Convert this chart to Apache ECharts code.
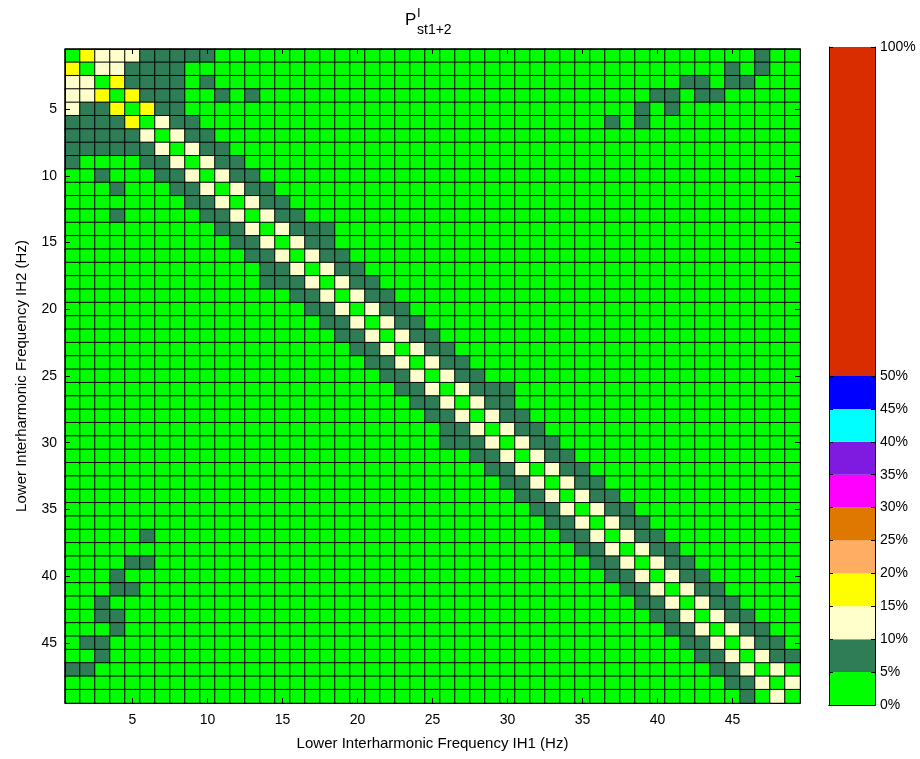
<!DOCTYPE html>
<html>
<head>
<meta charset="utf-8">
<script src="https://cdn.jsdelivr.net/npm/echarts@6/dist/echarts.min.js"></script>
<style>
html,body{margin:0;padding:0;background:#fff}
#main{width:920px;height:759px}
</style>
</head>
<body>
<div id="main"></div>
<script>
// frequency bins 1..49 Hz (same for both axes)
var freqs = [1,2,3,4,5,6,7,8,9,10,11,12,13,14,15,16,17,18,19,20,21,22,23,24,25,
             26,27,28,29,30,31,32,33,34,35,36,37,38,39,40,41,42,43,44,45,46,47,48,49];

// one string per IH2 row (1..49), one char per IH1 column
// 0 -> 0-5%, 1 -> 5-10%, 2 -> 10-15%, 3 -> 15-20%
var cellRows = [
  "0322211111 0000000000 0000000000 0000000000 000000100",
  "3022111100 0000000000 0000000000 0000000000 000010100",
  "2203111101 0000000000 0000000000 0000000000 011011000",
  "2230311100 1010000000 0000000000 0000000001 101100000",
  "2113031100 0000000000 0000000000 0000000010 100000000",
  "1111302110 0000000000 0000000000 0000001010 000000000",
  "1111120211 0000000000 0000000000 0000000000 000000000",
  "1111112021 1000000000 0000000000 0000000000 000000000",
  "1000011202 1100000000 0000000000 0000000000 000000000",
  "0010001120 2110000000 0000000000 0000000000 000000000",
  "0001000112 0211000000 0000000000 0000000000 000000000",
  "0000000011 2021100000 0000000000 0000000000 000000000",
  "0001000001 1202110000 0000000000 0000000000 000000000",
  "0000000000 1120211100 0000000000 0000000000 000000000",
  "0000000000 0112021100 0000000000 0000000000 000000000",
  "0000000000 0011202110 0000000000 0000000000 000000000",
  "0000000000 0001120211 0000000000 0000000000 000000000",
  "0000000000 0001112021 1000000000 0000000000 000000000",
  "0000000000 0000011202 1100000000 0000000000 000000000",
  "0000000000 0000001120 2110000000 0000000000 000000000",
  "0000000000 0000000112 0211000000 0000000000 000000000",
  "0000000000 0000000011 2021100000 0000000000 000000000",
  "0000000000 0000000001 1202110000 0000000000 000000000",
  "0000000000 0000000000 1120211000 0000000000 000000000",
  "0000000000 0000000000 0112021100 0000000000 000000000",
  "0000000000 0000000000 0011202111 0000000000 000000000",
  "0000000000 0000000000 0001120211 0000000000 000000000",
  "0000000000 0000000000 0000112021 1000000000 000000000",
  "0000000000 0000000000 0000011202 1100000000 000000000",
  "0000000000 0000000000 0000011120 2110000000 000000000",
  "0000000000 0000000000 0000000112 0211000000 000000000",
  "0000000000 0000000000 0000000011 2021100000 000000000",
  "0000000000 0000000000 0000000001 1202110000 000000000",
  "0000000000 0000000000 0000000000 1120211000 000000000",
  "0000000000 0000000000 0000000000 0112021100 000000000",
  "0000000000 0000000000 0000000000 0011202110 000000000",
  "0000010000 0000000000 0000000000 0001120211 000000000",
  "0000000000 0000000000 0000000000 0000112021 100000000",
  "0000110000 0000000000 0000000000 0000011202 110000000",
  "0001000000 0000000000 0000000000 0000001120 211000000",
  "0001100000 0000000000 0000000000 0000000112 021100000",
  "0010000000 0000000000 0000000000 0000000011 202110000",
  "0011000000 0000000000 0000000000 0000000001 120211000",
  "0001000000 0000000000 0000000000 0000000000 112021100",
  "0110000000 0000000000 0000000000 0000000000 011202110",
  "0010000000 0000000000 0000000000 0000000000 001120211",
  "1100000000 0000000000 0000000000 0000000000 000112020",
  "0000000000 0000000000 0000000000 0000000000 000011202",
  "0000000000 0000000000 0000000000 0000000000 000001020"
];
var binPct = [2.5, 7.5, 12.5, 17.5];   // mid value of each class

// colour scale
var cbPct = [0, 5, 10, 15, 20, 25, 30, 35, 40, 45, 50, 100];
var cbPos = [0, 1, 2, 3, 4, 5, 6, 7, 8, 9, 10, 20];   // where each edge sits on the bar
var cbColors = ['#00ff00', '#2e7d56', '#ffffcc', '#ffff00', '#ffad63', '#de7800',
                '#ff00ff', '#7f1ae0', '#00ffff', '#0000ff', '#d92d00'];

var FONT = '"Liberation Sans", Arial, Helvetica, sans-serif';

var heatData = [];
for (var r = 0; r < cellRows.length; r++) {
  var row = cellRows[r].replace(/ /g, '');
  for (var c = 0; c < row.length; c++) {
    heatData.push([c, r, binPct[+row[c]]]);
  }
}

var pieces = [];
for (var i = 0; i < cbColors.length; i++) {
  pieces.push({ gte: cbPct[i], lt: cbPct[i + 1], color: cbColors[i] });
}

var every5 = function (idx, val) { return (+val) % 5 === 0; };
var tickCfg = { show: true, inside: true, length: 5, alignWithLabel: true, interval: every5,
                lineStyle: { color: '#000', width: 1 } };
var lineCfg = { show: true, lineStyle: { color: '#000', width: 1 } };
var lblCfg = { color: '#000', fontSize: 14, fontFamily: FONT };

var cbSeries = [];
for (var k = 0; k < cbColors.length; k++) {
  cbSeries.push({
    type: 'bar', xAxisIndex: 2, yAxisIndex: 2, stack: 'cb', silent: true,
    barWidth: '100%', data: [cbPos[k + 1] - cbPos[k]],
    itemStyle: { color: cbColors[k] }
  });
}
var cbTickVals = cbPos.slice();

var option = {
  backgroundColor: '#fff',
  animation: false,
  title: [
    { text: 'P', left: 405, top: 12, padding: 0, textStyle: { fontSize: 17, fontWeight: 'normal', color: '#000', fontFamily: FONT } },
    { text: 'I', left: 417, top: 7, padding: 0, textStyle: { fontSize: 13, fontWeight: 'normal', color: '#000', fontFamily: FONT } },
    { text: 'st1+2', left: 417, top: 23, padding: 0, textStyle: { fontSize: 14, fontWeight: 'normal', color: '#000', fontFamily: FONT } }
  ],
  grid: [
    { left: 65, top: 49, width: 735, height: 654 },
    { left: 829, top: 47, width: 46, height: 658 }
  ],
  visualMap: {
    show: false, type: 'piecewise', dimension: 2, seriesIndex: 0, pieces: pieces
  },
  xAxis: [
    { type: 'category', gridIndex: 0, data: freqs, position: 'bottom', z: 5,
      axisLine: lineCfg, axisTick: tickCfg, splitLine: { show: false },
      axisLabel: Object.assign({ interval: every5, margin: 10 }, lblCfg),
      name: 'Lower Interharmonic Frequency IH1 (Hz)', nameLocation: 'middle', nameGap: 33,
      nameTextStyle: { color: '#000', fontSize: 15, fontFamily: FONT } },
    { type: 'category', gridIndex: 0, data: freqs, position: 'top', z: 5,
      axisLine: lineCfg, axisTick: tickCfg, axisLabel: { show: false }, splitLine: { show: false } },
    { type: 'category', gridIndex: 1, data: ['cb'], position: 'bottom', z: 5,
      axisLine: lineCfg, axisTick: { show: false }, axisLabel: { show: false } },
    { type: 'category', gridIndex: 1, data: ['cb'], position: 'top', z: 5,
      axisLine: lineCfg, axisTick: { show: false }, axisLabel: { show: false } }
  ],
  yAxis: [
    { type: 'category', gridIndex: 0, data: freqs, inverse: true, position: 'left', z: 5,
      axisLine: lineCfg, axisTick: tickCfg, splitLine: { show: false },
      axisLabel: Object.assign({ interval: every5, margin: 8 }, lblCfg),
      name: 'Lower Interharmonic Frequency IH2 (Hz)', nameLocation: 'middle', nameGap: 36,
      nameTextStyle: { color: '#000', fontSize: 15, fontFamily: FONT } },
    { type: 'category', gridIndex: 0, data: freqs, inverse: true, position: 'right', z: 5,
      axisLine: lineCfg, axisTick: tickCfg, axisLabel: { show: false }, splitLine: { show: false } },
    { type: 'value', gridIndex: 1, min: 0, max: 20, position: 'right', z: 5,
      axisLine: lineCfg, splitLine: { show: false },
      axisTick: { show: true, inside: true, length: 4, customValues: cbTickVals, lineStyle: { color: '#000' } },
      axisLabel: Object.assign({
        margin: 5, customValues: cbTickVals,
        formatter: function (v) { var j = cbPos.indexOf(v); return j < 0 ? '' : cbPct[j] + '%'; }
      }, lblCfg) },
    { type: 'value', gridIndex: 1, min: 0, max: 20, position: 'left', z: 5,
      axisLine: lineCfg, splitLine: { show: false },
      axisTick: { show: true, inside: true, length: 4, customValues: cbTickVals, lineStyle: { color: '#000' } },
      axisLabel: { show: false } }
  ],
  series: [
    {
      type: 'heatmap', xAxisIndex: 0, yAxisIndex: 0, data: heatData,
      itemStyle: { borderColor: '#000', borderWidth: 1 },
      emphasis: { disabled: true }, silent: true
    }
  ].concat(cbSeries)
};

var chart = echarts.init(document.getElementById('main'));
chart.setOption(option);
</script>
</body>
</html>
